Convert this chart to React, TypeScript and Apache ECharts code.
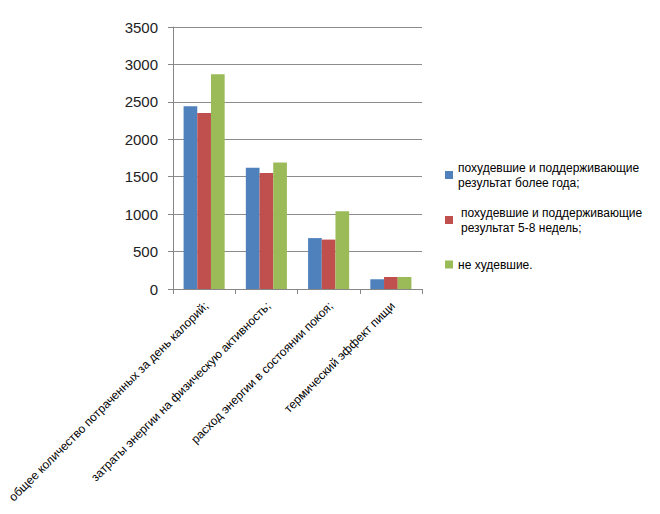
import React, { useEffect, useRef } from "react";
import * as echarts from "echarts";

const categories = [
  "общее количество потраченных за день калорий;",
  "затраты энергии на физическую активность;",
  "расход энергии в состоянии покоя;",
  "термический эффект пищи",
];
const seriesNames = [
  "похудевшие и поддерживающие\nрезультат более года;",
  "похудевшие и поддерживающие\nрезультат 5-8 недель;",
  "не худевшие.",
];
const lostYear = [2440, 1620, 680, 130];
const lostWeeks = [2350, 1550, 660, 160];
const notLost = [2870, 1690, 1040, 160];
const yTicks = [0, 500, 1000, 1500, 2000, 2500, 3000, 3500];
const colors = ["#4F81BD", "#C0504D", "#9BBB59"];

export default function App() {
  const ref = useRef<HTMLDivElement>(null);
  useEffect(() => {
    const chart = echarts.init(ref.current!, undefined, { renderer: "svg" });
    const values = [lostYear, lostWeeks, notLost];
    const legendTops = [155, 200, 252];
    const legendLefts = [440, 440, 440];
    chart.setOption({
      animation: false,
      textStyle: { fontFamily: "Liberation Sans, Arial, sans-serif" },
      grid: { left: 173, right: 238, top: 27, bottom: 225, containLabel: false },
      legend: seriesNames.map((n, i) => ({
        data: [n],
        orient: "vertical",
        left: legendLefts[i],
        top: legendTops[i],
        itemWidth: 8,
        itemHeight: 8,
        itemGap: 4,
        icon: "rect",
        textStyle: { fontSize: 12, color: "#000", lineHeight: 15, padding: [0, 0, 0, i === 1 ? 3 : 0] },
      })),
      xAxis: {
        type: "category",
        data: categories,
        axisLine: { lineStyle: { color: "#868686" } },
        axisTick: { show: true, alignWithLabel: false, length: 5, lineStyle: { color: "#868686" } },
        axisLabel: {
          rotate: 45,
          interval: 0,
          fontSize: 12,
          color: "#000",
          margin: 17,
          padding: [0, -3, 0, 0],
        },
      },
      yAxis: {
        type: "value",
        min: 0,
        max: yTicks[yTicks.length - 1],
        interval: 500,
        axisLine: { show: true, lineStyle: { color: "#868686" } },
        axisTick: { show: true, length: 5, lineStyle: { color: "#868686" } },
        axisLabel: { fontSize: 15, color: "#222", margin: 15, formatter: (v: number) => String(v) },
        splitLine: { lineStyle: { color: "#8c8c8c" } },
      },
      series: values.map((v, i) => ({
        type: "bar",
        name: seriesNames[i],
        data: v,
        itemStyle: { color: colors[i] },
        barGap: "0%",
        barCategoryGap: "34%",
      })),
    });
    return () => chart.dispose();
  }, []);
  return <div ref={ref} style={{ width: 660, height: 514, position: "absolute", left: 0, top: 0 }} />;
}
